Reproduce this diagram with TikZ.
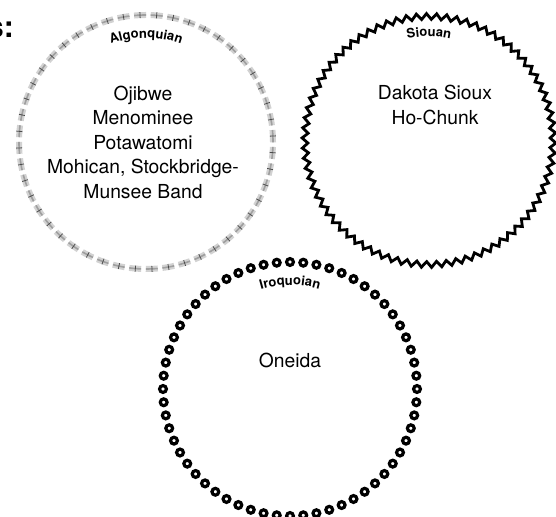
\documentclass[tikz,border=0pt]{standalone}
\usepackage{fontspec}
\setmainfont{TeX Gyre Heros}
\usepackage{tikz}
\usetikzlibrary{decorations.pathmorphing, decorations.text, positioning}

\newcommand{\famfont}{\fontsize{13}{13}\selectfont\bfseries}

\tikzset{
  tribes/.style={align=center, font=\fontsize{19.3}{24.5}\selectfont, inner sep=0pt},
  algring/.style={line width=6pt, gray!35, dash pattern=on 12pt off 4.62pt},
  algcore/.style={line width=1.6pt, gray!75, dash pattern=on 12pt off 4.62pt},
  algtick/.style={line width=0.8pt, black!70},
  siozig/.style={line width=2.8pt, black, decorate,
    decoration={zigzag, segment length=9.989pt, amplitude=2.9pt}},
  irobead/.style={line width=3.2pt, black}
}

\begin{document}
\begin{tikzpicture}[x=1pt, y=1pt]
\useasboundingbox (0,0) rectangle (556,516);
% centres of the three families
\coordinate (alg) at (146,374);
\coordinate (sio) at (429,375.5);
\coordinate (iro) at (290,127);

% heading cut at the left edge
\node[anchor=base east, inner sep=0pt, font=\fontsize{30}{30}\selectfont\bfseries] (head) at (14,478) {s:};

% Algonquian - shaded ring with ticks
\draw[algring] (alg) circle (127);
\draw[algcore] (alg) circle (127);
\foreach \a in {0,7.5,...,352.5} {
    \draw[algtick] (alg) ++(\a+2.7:124) -- ++(\a+2.7:6);
}
\path[decorate, decoration={text along path, text={|\famfont|Algonquian}, text align=center}]
  (alg) ++(130:104) arc (130:50:104);
\node[tribes] (algnames) at (143,374) {Ojibwe\\Menominee\\Potawatomi\\Mohican, Stockbridge-\\Munsee Band};

% Siouan - zigzag ring
\draw[siozig] (sio) circle (124);
\path[decorate, decoration={text along path, text={|\famfont|Siouan}, text align=center}]
  (sio) ++(130:104) arc (130:50:104);
\node[tribes] (sionames) at (435,411) {Dakota Sioux\\Ho-Chunk};

% Iroquoian - ring of beads
\foreach \i in {0,...,59} {
    \draw[irobead] (iro) ++(6*\i:127) circle (3.4);
}
\path[decorate, decoration={text along path, text={|\famfont|Iroquoian}, text align=center}]
  (iro) ++(130:104) arc (130:50:104);
\node[tribes] (ironames) at (290,156) {Oneida};
\end{tikzpicture}
\end{document}
